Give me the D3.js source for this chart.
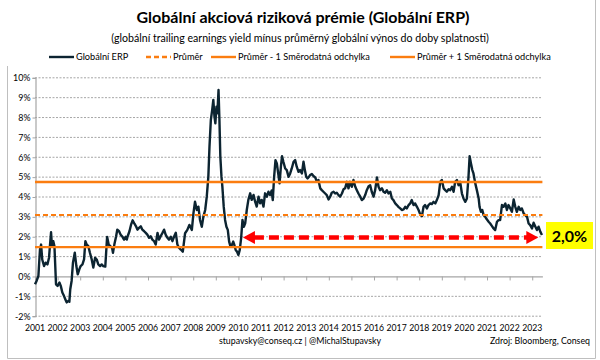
<!DOCTYPE html>
<html>
<head>
<meta charset="utf-8">
<script src="https://cdn.jsdelivr.net/npm/d3@7"></script>
<style>
body { margin: 0; background: #fff; }
svg { display: block; font-family: Lato, "Open Sans", sans-serif; }
</style>
</head>
<body>
<svg id="chart" width="600" height="360"></svg>
<script>
// values (decimal year, % )
const dates = [
	2001.00, 2001.07, 2001.15, 2001.22, 2001.27, 2001.32, 2001.40, 2001.47, 2001.55, 2001.62, 2001.66, 2001.71, 2001.75, 2001.81, 2001.86, 2001.93,
	2002.00, 2002.08, 2002.14, 2002.21, 2002.28, 2002.34, 2002.40, 2002.48, 2002.52, 2002.56, 2002.62, 2002.68, 2002.76, 2002.83, 2002.89, 2002.96,
	2003.02, 2003.10, 2003.17, 2003.23, 2003.29, 2003.36, 2003.43, 2003.51, 2003.58, 2003.66, 2003.73, 2003.80, 2003.88, 2003.95,
	2004.02, 2004.11, 2004.19, 2004.26, 2004.33, 2004.41, 2004.45, 2004.51, 2004.59, 2004.64, 2004.72, 2004.79, 2004.87, 2004.94,
	2005.01, 2005.06, 2005.10, 2005.18, 2005.25, 2005.32, 2005.40, 2005.47, 2005.53, 2005.60, 2005.68, 2005.75, 2005.83, 2005.90, 2005.97,
	2006.05, 2006.12, 2006.19, 2006.27, 2006.34, 2006.42, 2006.49, 2006.56, 2006.64, 2006.71, 2006.78, 2006.86, 2006.93,
	2007.01, 2007.08, 2007.15, 2007.23, 2007.30, 2007.37, 2007.45, 2007.54, 2007.64, 2007.74, 2007.83, 2007.94,
	2008.01, 2008.08, 2008.16, 2008.23, 2008.30, 2008.38, 2008.45, 2008.53, 2008.60, 2008.67, 2008.72, 2008.78, 2008.84, 2008.89, 2008.94, 2008.98,
	2009.03, 2009.07, 2009.12, 2009.16, 2009.20, 2009.25, 2009.29, 2009.35, 2009.41, 2009.47, 2009.53, 2009.59, 2009.65, 2009.71, 2009.77, 2009.82, 2009.88, 2009.94,
	2010.00, 2010.06, 2010.12, 2010.18, 2010.24, 2010.30, 2010.37, 2010.44, 2010.52, 2010.59, 2010.67, 2010.74, 2010.81, 2010.89, 2010.96,
	2011.03, 2011.11, 2011.18, 2011.26, 2011.33, 2011.40, 2011.47, 2011.52, 2011.58, 2011.64, 2011.70, 2011.76, 2011.82, 2011.88, 2011.93, 2011.99,
	2012.07, 2012.14, 2012.22, 2012.29, 2012.36, 2012.44, 2012.51, 2012.58, 2012.66, 2012.73, 2012.81, 2012.88, 2012.94,
	2013.00, 2013.06, 2013.12, 2013.17, 2013.25, 2013.32, 2013.40, 2013.47, 2013.54, 2013.62, 2013.69, 2013.76, 2013.84, 2013.91, 2013.99,
	2014.06, 2014.13, 2014.21, 2014.28, 2014.35, 2014.43, 2014.50, 2014.58, 2014.65, 2014.72, 2014.80, 2014.87, 2014.94,
	2015.02, 2015.09, 2015.17, 2015.24, 2015.31, 2015.39, 2015.46, 2015.54, 2015.61, 2015.68, 2015.76, 2015.83, 2015.90, 2015.98,
	2016.05, 2016.13, 2016.20, 2016.27, 2016.35, 2016.42, 2016.49, 2016.57, 2016.64, 2016.72, 2016.79, 2016.86, 2016.94,
	2017.01, 2017.08, 2017.16, 2017.23, 2017.31, 2017.38, 2017.45, 2017.53, 2017.60, 2017.67, 2017.75, 2017.82, 2017.90, 2017.97,
	2018.04, 2018.12, 2018.19, 2018.26, 2018.34, 2018.41, 2018.49, 2018.56, 2018.63, 2018.71, 2018.78, 2018.86, 2018.93,
	2019.00, 2019.08, 2019.15, 2019.22, 2019.30, 2019.37, 2019.45, 2019.52, 2019.59, 2019.67, 2019.74, 2019.81, 2019.89, 2019.96,
	2020.04, 2020.11, 2020.18, 2020.23, 2020.29, 2020.35, 2020.40, 2020.48, 2020.55, 2020.63, 2020.67, 2020.73, 2020.79, 2020.85, 2020.92, 2020.99,
	2021.07, 2021.14, 2021.22, 2021.29, 2021.36, 2021.44, 2021.51, 2021.58, 2021.66, 2021.73, 2021.81, 2021.88, 2021.95,
	2022.03, 2022.10, 2022.18, 2022.25, 2022.32, 2022.40, 2022.47, 2022.54, 2022.62, 2022.69, 2022.77, 2022.84, 2022.91, 2022.99,
	2023.06, 2023.14, 2023.21, 2023.28, 2023.36, 2023.43
];
const erp = [
	-0.42, -0.25, 0.00, 1.33, 1.58, 0.83, 0.50, 0.67, 0.58, 0.92, 1.50, 2.20, 1.50, 1.75, 1.50, -0.42,
	-0.50, -0.33, -0.50, -0.83, -1.00, -1.17, -1.33, -1.25, -1.30, -0.67, -0.25, 0.67, 1.17, 0.50, 0.08, 0.33,
	0.50, 0.58, 0.83, 1.75, 1.58, 1.50, 1.17, 0.83, 0.42, 0.92, 0.83, 0.58, 0.50, 0.58,
	0.50, 0.47, 1.97, 1.58, 1.50, 1.42, 1.17, 1.58, 2.00, 2.33, 2.25, 2.08, 1.97, 1.83,
	1.97, 1.83, 2.00, 2.25, 2.58, 2.80, 2.63, 2.50, 2.33, 2.42, 2.50, 2.33, 2.25, 2.17, 2.08,
	1.92, 2.00, 1.83, 1.75, 1.58, 2.17, 1.83, 2.00, 2.17, 2.33, 2.08, 1.92, 1.83,
	1.97, 1.75, 1.97, 2.17, 1.58, 1.42, 1.33, 1.22, 2.15, 2.32, 2.57, 2.32,
	3.15, 3.74, 3.32, 3.49, 2.82, 2.48, 2.99, 3.32, 3.99, 5.00, 6.51, 7.85, 8.36, 8.86, 8.02, 7.68,
	8.52, 8.19, 9.36, 7.85, 6.01, 5.00, 4.50, 3.49, 2.82, 2.48, 2.32, 1.73, 1.48, 1.56, 1.73, 1.56, 1.31, 1.22,
	1.06, 1.31, 1.90, 2.82, 2.48, 2.65, 3.32, 3.83, 4.16, 3.83, 4.08, 3.74, 3.49, 3.99, 3.66,
	3.83, 3.49, 4.16, 3.99, 4.24, 4.08, 4.30, 3.82, 4.99, 5.83, 5.66, 5.16, 4.66, 5.50, 6.03, 5.75,
	5.41, 5.33, 4.99, 5.16, 5.41, 5.75, 5.83, 5.50, 5.24, 5.33, 5.16, 5.75, 5.33,
	4.99, 4.91, 4.99, 5.08, 5.13, 5.03, 4.96, 4.74, 4.83, 4.41, 4.32, 4.24, 4.15, 4.07, 3.85,
	3.99, 4.19, 4.24, 4.15, 4.19, 4.07, 3.99, 4.15, 4.36, 4.41, 4.74, 4.41, 4.74,
	4.49, 4.83, 4.49, 4.32, 4.15, 3.99, 3.82, 3.90, 4.07, 4.32, 4.52, 4.57, 4.24, 3.99,
	4.32, 4.96, 4.49, 4.32, 4.41, 4.24, 4.19, 4.32, 4.15, 4.24, 3.90, 3.82, 3.65,
	3.57, 3.48, 3.40, 3.32, 3.35, 3.48, 3.40, 3.57, 3.65, 3.82, 3.57, 3.65, 3.48, 3.32,
	3.11, 3.01, 3.48, 3.57, 3.40, 3.57, 3.65, 3.62, 3.73, 3.65, 3.82, 4.07, 4.74,
	4.83, 4.41, 4.32, 4.24, 4.36, 4.32, 4.49, 4.24, 4.74, 4.83, 4.57, 4.74, 4.15, 3.90,
	3.73, 3.90, 4.99, 6.03, 5.66, 5.33, 5.16, 4.66, 4.32, 3.90, 3.48, 3.23, 3.32, 3.06, 2.98, 2.85,
	2.73, 2.64, 2.51, 2.39, 2.31, 2.73, 2.81, 2.81, 3.57, 3.48, 3.65, 3.32, 3.57,
	3.40, 3.23, 3.85, 3.48, 3.23, 3.48, 3.32, 3.40, 3.15, 3.06, 2.98, 2.64, 2.56, 2.39,
	2.68, 2.48, 2.31, 2.48, 2.22, 2.06
];
const prumer = 3.07;        // Průměr
const prumerMinus = 1.45;   // Průměr - 1 Směrodatná odchylka
const prumerPlus = 4.73;    // Průměr + 1 Směrodatná odchylka
const yTicks = [-2, -1, 0, 1, 2, 3, 4, 5, 6, 7, 8, 9, 10];
const xYears = d3.range(2001, 2024);
const legendNames = ["Globální ERP", "Průměr", "Průměr - 1 Směrodatná odchylka", "Průměr + 1 Směrodatná odchylka"];
const arrowLevel = 1.93;
const arrowFrom = 2010.2, arrowTo = 2023.27;
const lastLabel = "2,0%";

const dark = "#0c2431", orange = "#fb7d10", red = "#ff0000", grid = "#a6a6a6";

const svg = d3.select("#chart");

// frame
svg.append("path").attr("d", "M7.5,66 V358.5 H595.5 V0").attr("fill", "none").attr("stroke", "#bfbfbf");

// titles
svg.append("text").attr("x", 303).attr("y", 23).attr("text-anchor", "middle")
	.attr("font-size", 16).attr("font-weight", "bold").attr("fill", "#000")
	.text("Globální akciová riziková prémie (Globální ERP)");
svg.append("text").attr("x", 300).attr("y", 42).attr("text-anchor", "middle")
	.attr("font-size", 10.6).attr("fill", "#000")
	.text("(globální trailing earnings yield mínus průměrný globální výnos do doby splatnosti)");

// scales
const x = d3.scaleLinear().domain([2001, 2023.45]).range([35, 542.4]);
const y = d3.scaleLinear().domain([-2, 10]).range([315.7, 77.3]);

// gridlines
svg.append("g").selectAll("line").data(yTicks.filter(d => d !== 0)).enter().append("line")
	.attr("x1", x(2001)).attr("x2", x.range()[1])
	.attr("y1", d => y(d) + 0.5).attr("y2", d => y(d) + 0.5)
	.attr("stroke", grid).attr("stroke-dasharray", "2,1.5");

// y axis
const yAxis = svg.append("g").attr("transform", "translate(" + (x(2001) + 0.5) + ",0.5)")
	.call(d3.axisLeft(y).tickValues(yTicks).tickSize(3).tickFormat(d => d + "%"));
yAxis.select(".domain").attr("stroke", grid).attr("stroke-width", 1.2);
yAxis.selectAll(".tick line").attr("stroke", grid);
yAxis.selectAll("text").attr("font-size", 8.9).attr("fill", "#000").attr("x", -5).attr("font-family", "Lato");

// x axis on zero line
const xAxis = svg.append("g").attr("transform", "translate(0," + (y(0) + 0.5) + ")")
	.call(d3.axisBottom(x).tickValues(xYears).tickSize(4).tickSizeOuter(0).tickFormat(""));
xAxis.select(".domain").attr("stroke", grid).attr("stroke-width", 1.2);
xAxis.selectAll(".tick line").attr("stroke", grid);

// year labels below the chart
svg.append("g").selectAll("text").data(xYears).enter().append("text")
	.attr("x", d => x(d)).attr("y", 331).attr("text-anchor", "middle")
	.attr("font-size", 8.7).attr("fill", "#000").text(d => d);

// ERP series
const line = d3.line().x(d => x(d[0])).y(d => y(d[1]));
svg.append("path").datum(d3.zip(dates, erp)).attr("d", line)
	.attr("fill", "none").attr("stroke", dark).attr("stroke-width", 2.4).attr("stroke-linejoin", "round");

// mean and +/- 1 sd
const levels = [
	{v: prumer, dash: "5,3", w: 2},
	{v: prumerMinus, dash: null, w: 2.4},
	{v: prumerPlus, dash: null, w: 2.4}
];
svg.append("g").selectAll("line").data(levels).enter().append("line")
	.attr("x1", x(2001)).attr("x2", x.range()[1])
	.attr("y1", d => y(d.v)).attr("y2", d => y(d.v))
	.attr("stroke", orange).attr("stroke-width", d => d.w).attr("stroke-dasharray", d => d.dash);

// red double arrow
const ay = y(arrowLevel), ax1 = x(arrowFrom), ax2 = x(arrowTo);
svg.append("line").attr("x1", ax1 + 11).attr("x2", ax2 - 11).attr("y1", ay).attr("y2", ay)
	.attr("stroke", red).attr("stroke-width", 4.5).attr("stroke-dasharray", "10,5");
svg.append("path").attr("d", "M" + ax1 + "," + ay + " l12,-6.5 v13 z").attr("fill", red);
svg.append("path").attr("d", "M" + ax2 + "," + ay + " l-12,-6.5 v13 z").attr("fill", red);

// yellow label
svg.append("rect").attr("x", 546).attr("y", 222).attr("width", 47).attr("height", 27).attr("fill", "#ffff00");
svg.append("text").attr("x", 569.5).attr("y", 241.5).attr("text-anchor", "middle")
	.attr("font-size", 16).attr("font-weight", "bold").attr("fill", "#000").text(lastLabel);

// legend
const legendX = [49, 146, 211, 390];
const leg = svg.append("g").selectAll("g").data(legendNames).enter().append("g")
	.attr("transform", (d, i) => "translate(" + legendX[i] + ",57)");
leg.append("line").attr("x1", 0).attr("x2", 25).attr("y1", 0).attr("y2", 0)
	.attr("stroke", (d, i) => i === 0 ? dark : orange).attr("stroke-width", 2.4)
	.attr("stroke-dasharray", (d, i) => i === 1 ? "5,3" : null);
leg.append("text").attr("x", 27).attr("y", 3.3).attr("font-size", 9.2).attr("fill", "#000").text(d => d);

// footer
svg.append("text").attr("x", 300).attr("y", 344).attr("text-anchor", "middle")
	.attr("font-size", 8.8).attr("fill", "#000").text("stupavsky@conseq.cz  |  @MichalStupavsky");
svg.append("text").attr("x", 590).attr("y", 344).attr("text-anchor", "end")
	.attr("font-size", 8.8).attr("fill", "#000").text("Zdroj: Bloomberg, Conseq");
</script>
</body>
</html>
